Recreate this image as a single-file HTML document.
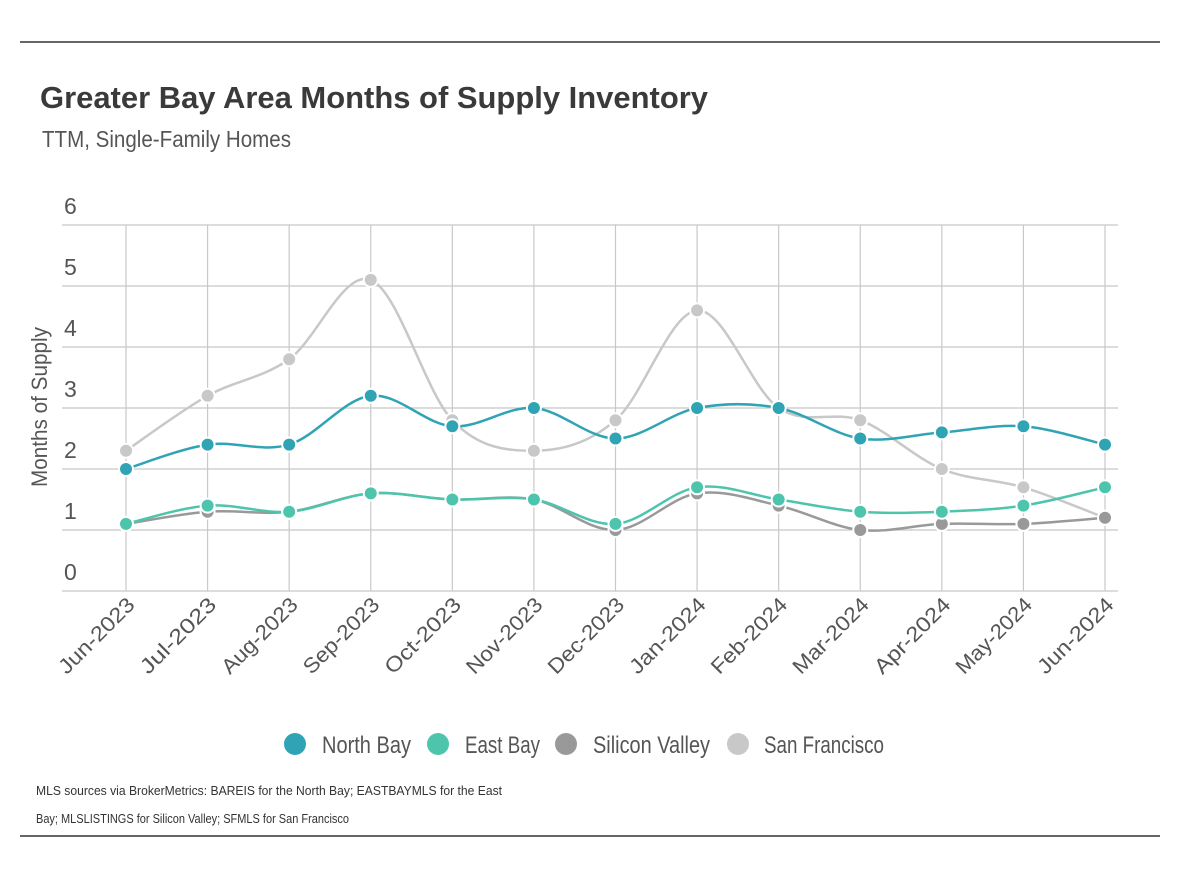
<!DOCTYPE html>
<html><head><meta charset="utf-8"><style>
body{margin:0;background:#fff;}
svg{display:block;font-family:"Liberation Sans Narrow","Liberation Sans",sans-serif;}
</style></head><body>
<svg id="chart" width="1178" height="874" viewBox="0 0 1178 874">
<line x1="20" y1="42" x2="1160" y2="42" stroke="#333" stroke-width="1.5"/>
<line x1="20" y1="836" x2="1160" y2="836" stroke="#333" stroke-width="1.5"/>
<text x="40" y="108" font-family="Liberation Sans" font-weight="bold" font-size="31" fill="#3a3a3a" textLength="668" lengthAdjust="spacingAndGlyphs">Greater Bay Area Months of Supply Inventory</text>
<text x="42" y="147" font-size="23" fill="#555" textLength="249" lengthAdjust="spacingAndGlyphs">TTM, Single-Family Homes</text>
<text transform="translate(47,407) rotate(-90)" text-anchor="middle" font-size="22" fill="#555" textLength="160" lengthAdjust="spacingAndGlyphs">Months of Supply</text>
<g id="grid"></g><g id="series"></g><g id="xlabels"></g>
<g>
<g><circle cx="295" cy="744" r="11" fill="#2fa4b5"/><text x="322" y="753" font-size="24" fill="#555" textLength="89" lengthAdjust="spacingAndGlyphs">North Bay</text></g>
<g><circle cx="438" cy="744" r="11" fill="#4dc4ac"/><text x="465" y="753" font-size="24" fill="#555" textLength="75" lengthAdjust="spacingAndGlyphs">East Bay</text></g>
<g><circle cx="566" cy="744" r="11" fill="#999"/><text x="593" y="753" font-size="24" fill="#555" textLength="117" lengthAdjust="spacingAndGlyphs">Silicon Valley</text></g>
<g><circle cx="738" cy="744" r="11" fill="#c8c8c8"/><text x="764" y="753" font-size="24" fill="#555" textLength="120" lengthAdjust="spacingAndGlyphs">San Francisco</text></g>
</g>
<text x="36" y="795" font-size="13" fill="#333" textLength="466" lengthAdjust="spacingAndGlyphs">MLS sources via BrokerMetrics: BAREIS for the North Bay; EASTBAYMLS for the East</text>
<text x="36" y="823" font-size="13" fill="#333" textLength="313" lengthAdjust="spacingAndGlyphs">Bay; MLSLISTINGS for Silicon Valley; SFMLS for San Francisco</text>
</svg>
<script>
const categories=["Jun-2023","Jul-2023","Aug-2023","Sep-2023","Oct-2023","Nov-2023","Dec-2023","Jan-2024","Feb-2024","Mar-2024","Apr-2024","May-2024","Jun-2024"];
const yTicks=[0,1,2,3,4,5,6];
const northBay=[2.0,2.4,2.4,3.2,2.7,3.0,2.5,3.0,3.0,2.5,2.6,2.7,2.4];
const eastBay=[1.1,1.4,1.3,1.6,1.5,1.5,1.1,1.7,1.5,1.3,1.3,1.4,1.7];
const siliconValley=[1.1,1.3,1.3,1.6,1.5,1.5,1.0,1.6,1.4,1.0,1.1,1.1,1.2];
const sanFrancisco=[2.3,3.2,3.8,5.1,2.8,2.3,2.8,4.6,3.0,2.8,2.0,1.7,1.2];
const NS="http://www.w3.org/2000/svg";
function xS(i){return 126+i*(1105-126)/(categories.length-1);}
function yS(v){return 591-v*61;}
function mk(tag,attrs,parent){const e=document.createElementNS(NS,tag);for(const k in attrs)e.setAttribute(k,attrs[k]);parent.appendChild(e);return e;}
const grid=document.getElementById('grid');
yTicks.forEach(t=>{
  const l=mk('line',{x1:62,x2:1118,y1:yS(t),y2:yS(t),stroke:'#c8c8c8','stroke-width':1.2},grid);
  
  
  const tx=mk('text',{x:64,y:yS(t)-11,'font-size':23,fill:'#555'},grid);
  tx.textContent=t;
  
  
});
const xl=document.getElementById('xlabels');
categories.forEach((c,i)=>{
  const l=mk('line',{x1:xS(i),x2:xS(i),y1:yS(6),y2:yS(0),stroke:'#c8c8c8','stroke-width':1.2},grid);
  
  
  const t=mk('text',{transform:`translate(${xS(i)+10},${606}) rotate(-45)`,'text-anchor':'end','font-size':21,fill:'#555',textLength:98,lengthAdjust:'spacingAndGlyphs'},xl);
  t.textContent=c;
  
  
});
const sg=document.getElementById('series');
function drawSeries(vals,color,name){
  const p=vals.map((v,i)=>[xS(i),yS(v)]);
  let d=`M${p[0][0]},${p[0][1]}`;
  for(let i=0;i<p.length-1;i++){
    const p0=p[Math.max(0,i-1)],p1=p[i],p2=p[i+1],p3=p[Math.min(p.length-1,i+2)];
    const c1=[p1[0]+(p2[0]-p0[0])/6,p1[1]+(p2[1]-p0[1])/6];
    const c2=[p2[0]-(p3[0]-p1[0])/6,p2[1]-(p3[1]-p1[1])/6];
    d+=` C${c1[0]},${c1[1]} ${c2[0]},${c2[1]} ${p2[0]},${p2[1]}`;
  }
  const path=mk('path',{d:d,fill:'none',stroke:color,'stroke-width':2.5},sg);
  
  
  p.forEach(q=>{
    const c=mk('circle',{cx:q[0],cy:q[1],r:7,fill:color,stroke:'#fff','stroke-width':2},sg);
    
    
  });
}
drawSeries(sanFrancisco,'#c8c8c8','san-francisco');
drawSeries(siliconValley,'#999999','silicon-valley');
drawSeries(eastBay,'#4dc4ac','east-bay');
drawSeries(northBay,'#2fa4b5','north-bay');
</script>
</body></html>
